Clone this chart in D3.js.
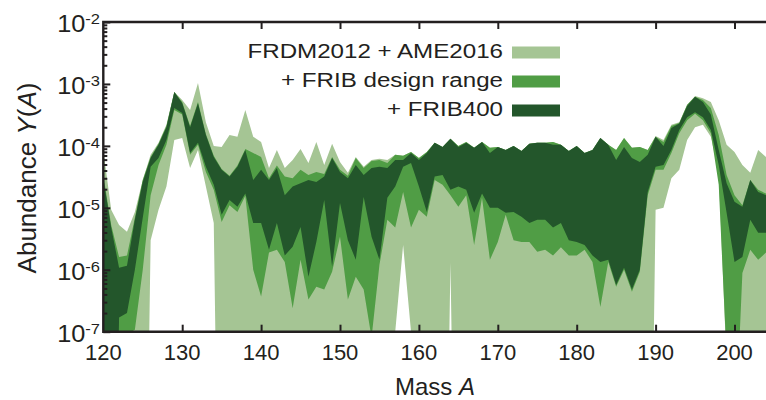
<!DOCTYPE html>
<html><head><meta charset="utf-8">
<script src="https://cdn.jsdelivr.net/npm/d3@7"></script>
<style>body{margin:0;background:#fff}svg{display:block}</style>
</head><body>
<svg id="chart" width="766" height="400"></svg>
<script>
// ---- data (A = 120 ... 204) ----
const massNumbers = d3.range(120, 205);
const lightUpper = [8.6e-5,9.3e-6,5.3e-6,4.1e-6,8.6e-6,2.8e-5,7.2e-5,1.12e-4,2.2e-4,7.4e-4,
  5.5e-4,3.8e-4,1.04e-3,2.4e-4,1.0e-4,9.6e-5,1.5e-4,1.4e-4,3.8e-4,1.4e-4,
  1.16e-4,4.4e-5,8.6e-5,4.4e-5,5.9e-5,8.9e-5,5.3e-5,1.16e-4,4.9e-5,1.08e-4,
  5.5e-5,3.7e-5,6.6e-5,4.6e-5,5.9e-5,6.2e-5,5.9e-5,7.2e-5,6.9e-5,8.0e-5,
  6.4e-5,8.0e-5,1.12e-4,9.6e-5,1.3e-4,1.0e-4,1.16e-4,9.3e-5,1.16e-4,9.3e-5,
  9.6e-5,8.6e-5,1.0e-4,8.3e-5,1.08e-4,1.12e-4,1.12e-4,1.16e-4,1.04e-4,8.3e-5,
  1.0e-4,7.7e-5,8.6e-5,1.34e-4,1.04e-4,8.6e-5,1.34e-4,9.3e-5,9.6e-5,8.6e-5,
  1.45e-4,1.25e-4,2.2e-4,2.4e-4,4.6e-4,6.4e-4,5.9e-4,5.1e-4,2.6e-4,1.04e-4,
  8.0e-5,4.9e-5,3.7e-5,8.6e-5,6.6e-5];
const lightLower = [1e-14,1e-14,1e-14,1e-14,1e-14,1e-14,3.0e-6,9.3e-6,2.2e-5,1.25e-4,
  1.34e-4,4.4e-5,8.6e-5,2.2e-5,5.7e-6,1e-14,1e-14,1e-14,1e-14,1e-14,
  1e-14,1e-14,1e-14,1e-14,1e-14,1e-14,1e-14,1e-14,1e-14,1e-14,
  1e-14,1e-14,1e-14,1e-14,1e-14,1e-14,1e-14,1e-7,2.5e-6,1e-7,
  1e-14,1e-14,1e-14,1e-14,1.3e-6,1e-14,1e-14,1e-14,1e-14,1e-14,
  1e-14,1e-14,1e-14,1e-14,1e-14,1e-14,1e-14,1e-14,1e-14,1e-14,
  1e-14,1e-14,1e-14,1e-14,1e-14,1e-14,1e-14,1e-14,1e-14,1e-14,
  9.3e-6,1.0e-5,3.0e-5,4.1e-5,1.25e-4,2.0e-4,2.2e-4,1.4e-4,3.8e-5,3e-8,
  1e-14,1e-14,1e-14,1e-14,1e-14];
const designUpper = [3.4e-5,5.3e-6,1.6e-6,1.7e-6,6.9e-6,2.8e-5,6.6e-5,1.08e-4,2.1e-4,7.4e-4,
  5.1e-4,2.1e-4,5.1e-4,1.56e-4,6.9e-5,4.25e-5,3.3e-5,4.8e-5,8.9e-5,7.7e-5,
  6.6e-5,3.0e-5,4.8e-5,3.2e-5,3.0e-5,4.1e-5,3.4e-5,3.8e-5,3.5e-5,6.6e-5,
  4.1e-5,3.3e-5,6.4e-5,4.4e-5,5.7e-5,5.9e-5,5.3e-5,7.2e-5,6.9e-5,8.0e-5,
  6.4e-5,8.0e-5,1.12e-4,9.6e-5,1.3e-4,1.0e-4,1.16e-4,9.3e-5,1.16e-4,9.3e-5,
  9.6e-5,8.6e-5,1.0e-4,8.3e-5,1.08e-4,1.12e-4,1.12e-4,1.16e-4,1.04e-4,8.3e-5,
  1.0e-4,7.7e-5,8.6e-5,1.34e-4,1.04e-4,8.6e-5,1.34e-4,9.3e-5,9.6e-5,8.6e-5,
  1.4e-4,1.16e-4,2.1e-4,2.35e-4,4.6e-4,6.2e-4,5.5e-4,4.1e-4,1.5e-4,3.4e-5,
  1.6e-5,1.1e-5,2.8e-5,1.95e-5,1.7e-5];
const designLower = [1e-14,1e-14,7.4e-8,9e-8,1.08e-7,1.0e-6,1.6e-5,4.9e-5,1.04e-4,3.8e-4,
  3.2e-4,7.2e-5,1.04e-4,3.8e-5,1.95e-5,5.9e-6,1.1e-5,8.6e-6,1.56e-5,1.0e-6,
  3.7e-7,1.9e-6,2.1e-6,1.34e-6,2.4e-7,1.45e-6,3.3e-7,5.3e-7,4.8e-7,9.3e-7,
  3.4e-6,3.3e-7,7.7e-7,4.8e-7,8e-8,1.2e-6,6.4e-6,4.8e-6,1.8e-5,4.8e-6,
  9.3e-6,7.2e-6,2.8e-5,2.35e-5,1.6e-5,1.04e-5,1.6e-5,2.5e-6,1.45e-5,1.45e-6,
  2.8e-6,7.7e-6,3.0e-6,2.8e-6,2.8e-6,1.95e-6,2.1e-6,1.7e-6,2.3e-6,1.7e-6,
  1.7e-6,2.1e-6,1.34e-6,2.5e-7,1.34e-6,5.3e-7,1.0e-6,4.4e-7,9.3e-7,1.6e-5,
  4.1e-5,4.1e-5,7.7e-5,1.6e-4,2.6e-4,3.3e-4,2.6e-4,1.6e-4,2.35e-5,4e-8,
  1e-9,8.9e-7,2.1e-6,1.45e-6,1.9e-6];
const frib400Upper = [3.0e-5,4.8e-6,1.08e-6,1.16e-6,6.4e-6,2.6e-5,6.4e-5,1.04e-4,2.0e-4,7.4e-4,
  4.9e-4,2.0e-4,4.9e-4,1.5e-4,6.6e-5,4.1e-5,3.2e-5,4.6e-5,8.6e-5,2.8e-5,
  4.1e-5,2.8e-5,4.4e-5,1.6e-5,2.2e-5,2.5e-5,2.8e-5,2.6e-5,3.2e-5,6.4e-5,
  3.8e-5,3.0e-5,4.9e-5,3.4e-5,4.4e-5,4.6e-5,4.4e-5,5.9e-5,5.9e-5,7.7e-5,
  5.9e-5,7.7e-5,1.12e-4,9.6e-5,1.3e-4,9.6e-5,1.12e-4,9.3e-5,1.16e-4,7.7e-5,
  9.6e-5,8.6e-5,1.0e-4,8.3e-5,1.08e-4,1.12e-4,1.12e-4,1.04e-4,1.04e-4,8.3e-5,
  1.0e-4,7.7e-5,8.6e-5,1.34e-4,1.04e-4,5.9e-5,9.6e-5,6.4e-5,5.5e-5,7.2e-5,
  1.4e-4,1.0e-4,1.95e-4,2.3e-4,4.4e-4,6.2e-4,5.1e-4,3.2e-4,8.6e-5,2.5e-5,
  1.25e-5,1.04e-5,2.8e-5,1.8e-5,1.6e-5];
const frib400Lower = [1e-14,1e-14,1.7e-7,2.0e-7,1.0e-6,6.9e-6,4.6e-5,6.4e-5,1.25e-4,4.1e-4,
  3.4e-4,7.7e-5,1.12e-4,4.6e-5,2.35e-5,7.7e-6,1.34e-5,1.04e-5,1.7e-5,5.7e-6,
  5.7e-6,2.1e-6,5.7e-6,1.7e-6,2.35e-6,4.9e-6,7.7e-7,2.8e-6,1.34e-5,1.12e-6,
  1.2e-5,3.0e-6,1.45e-6,1.5e-5,3.4e-6,1.45e-6,1.45e-5,2.2e-5,4.6e-5,5.3e-5,
  2.2e-5,8.6e-6,3.2e-5,3.4e-5,1.95e-5,2.2e-5,1.95e-5,8.3e-6,1.7e-5,1.0e-5,
  1.0e-5,8.3e-6,8.6e-6,7.2e-6,5.7e-6,6.4e-6,6.4e-6,4.8e-6,5.7e-6,3.0e-6,
  2.8e-6,2.5e-6,1.7e-6,1.34e-6,1.45e-6,5.7e-7,1.08e-6,4.8e-7,1.0e-6,1.8e-5,
  4.6e-5,4.9e-5,8.6e-5,1.8e-4,2.9e-4,3.5e-4,2.9e-4,1.8e-4,4.9e-5,8.3e-6,
  1.34e-6,1.6e-6,6.4e-6,3.95e-6,3.95e-6];
const xTickValues = [120,130,140,150,160,170,180,190,200];
const yDecades = [1e-7,1e-6,1e-5,1e-4,1e-3,1e-2];
const yExponents = ["-7","-6","-5","-4","-3","-2"];
const seriesNames = ["FRDM2012 + AME2016","+ FRIB design range","+ FRIB400"];
const seriesColors = ["#a5c594","#509d45","#23562b"];

// ---- layout ----
const svg = d3.select("#chart");
const L = 103.3, T = 22, B = 331.7, pxPerA = 7.89;
const x = d3.scaleLinear().domain([120, 205]).range([L, L + 85 * pxPerA]);
const y = d3.scaleLog().domain([1e-7, 1e-2]).range([B, T]);
const ink = "#231f20";
const font = "'Liberation Sans', Arial, Helvetica, sans-serif";

svg.append("defs").append("clipPath").attr("id","plotClip")
  .append("rect").attr("x", L).attr("y", T).attr("width", 800).attr("height", B - T);

const bands = [
  {lo: lightLower, hi: lightUpper, c: seriesColors[0]},
  {lo: designLower, hi: designUpper, c: seriesColors[1]},
  {lo: frib400Lower, hi: frib400Upper, c: seriesColors[2]}
];
const gPlot = svg.append("g").attr("clip-path","url(#plotClip)");
bands.forEach(b => {
  const rows = massNumbers.map((a, i) => ({a, lo: b.lo[i], hi: b.hi[i]}));
  const area = d3.area().x(d => x(d.a)).y0(d => y(d.lo)).y1(d => y(d.hi));
  gPlot.append("path").attr("d", area(rows)).attr("fill", b.c).attr("stroke","none");
});

// ---- axes ----
const minorTicks = [];
yDecades.slice(0, -1).forEach(d => { for (let k = 2; k <= 9; k++) minorTicks.push(d * k); });

function styleAxis(g) {
  g.select(".domain").remove();
  g.selectAll("line").attr("stroke", ink).attr("stroke-width", 2);
  g.selectAll("text").remove();
}
svg.append("g").attr("transform", `translate(0,${B})`)
  .call(d3.axisBottom(x).tickValues(xTickValues.slice(1)).tickSize(-7)).call(styleAxis);
svg.append("g").attr("transform", `translate(0,${T})`)
  .call(d3.axisTop(x).tickValues(xTickValues.slice(1)).tickSize(-7)).call(styleAxis);
svg.append("g").attr("transform", `translate(${L},0)`)
  .call(d3.axisLeft(y).tickValues(yDecades).tickSize(-7)).call(styleAxis);
svg.append("g").attr("transform", `translate(${L},0)`)
  .call(d3.axisLeft(y).tickValues(minorTicks).tickSize(-4)).call(styleAxis);

// frame
svg.append("path")
  .attr("d", `M${766},${T}H${L}V${B}H${766}`)
  .attr("fill","none").attr("stroke", ink).attr("stroke-width", 2.4);

// x tick labels
svg.append("g").selectAll("text").data(xTickValues).join("text")
  .attr("x", d => x(d)).attr("y", 360).attr("text-anchor","middle")
  .attr("font-family", font).attr("font-size", 22).attr("fill", ink).text(d => d);

// y tick labels with superscripts
const ylg = svg.append("g").selectAll("g").data(yDecades).join("g")
  .attr("transform", d => `translate(100,${y(d) + 10}) scale(1.1,1)`);
const yl = ylg.append("text").attr("x", 0).attr("y", 0).attr("text-anchor","end")
  .attr("font-family", font).attr("font-size", 23).attr("fill", ink);
yl.append("tspan").text("10");
yl.append("tspan").attr("dy", -8).attr("font-size", 15).text((d, i) => yExponents[i]);

// axis titles
const xt = svg.append("text").attr("x", 435).attr("y", 395).attr("text-anchor","middle")
  .attr("font-family", font).attr("font-size", 24).attr("fill", ink);
xt.append("tspan").text("Mass ");
xt.append("tspan").attr("font-style","italic").text("A");

const ytl = svg.append("text").attr("transform","translate(36,178) rotate(-90)")
  .attr("text-anchor","middle").attr("font-family", font).attr("font-size", 26).attr("fill", ink);
ytl.append("tspan").text("Abundance ");
ytl.append("tspan").attr("font-style","italic").text("Y");
ytl.append("tspan").text("(");
ytl.append("tspan").attr("font-style","italic").text("A");
ytl.append("tspan").text(")");

// legend
const lg = svg.append("g");
seriesNames.forEach((name, i) => {
  const rowY = 57.5 + i * 29;
  lg.append("g").attr("transform", `translate(503,${rowY}) scale(1.15,1)`)
    .append("text").attr("x", 0).attr("y", 0).attr("text-anchor","end")
    .attr("font-family", font).attr("font-size", 21).attr("fill", ink).text(name);
  lg.append("rect").attr("x", 512).attr("y", rowY - 11).attr("width", 48).attr("height", 12)
    .attr("fill", seriesColors[i]);
});
</script>
</body></html>
